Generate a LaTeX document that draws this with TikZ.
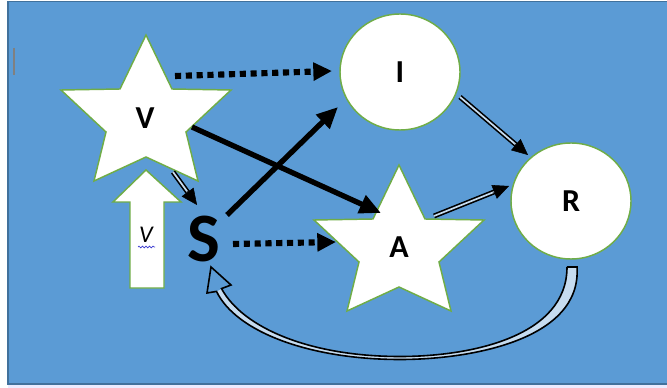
\documentclass[tikz,border=0pt]{standalone}
\usepackage{fontspec}
\setmainfont{Carlito}
\usetikzlibrary{arrows.meta,shapes.geometric,calc,decorations.pathmorphing}
\definecolor{bgblue}{HTML}{5B9BD5}
\definecolor{framec}{HTML}{41719C}
\definecolor{ggreen}{HTML}{70AD47}
\definecolor{spell}{HTML}{3B3BD0}
\colorlet{gapc}{white!65!bgblue}
\tikzset{
  starline/.style={draw=ggreen, fill=white, line width=1.1pt},
  pics/mystar/.style={code={
    \draw[starline] (0,-80) -- (26,-26) -- (85,-25) -- (40,17) -- (52,66) -- (0,42)
      -- (-52,66) -- (-40,17) -- (-85,-25) -- (-26,-26) -- cycle;}},
  lbl/.style={font=\bfseries\fontsize{24}{24}\selectfont, inner sep=0pt},
  circ/.style={ellipse, draw=ggreen, fill=white, line width=1.1pt,
    minimum width=90pt, minimum height=87pt, inner sep=0pt},
  dotarr/.style={line width=4.6pt, dash pattern=on 4.6pt off 3.5pt,
    -{Triangle[length=14pt,width=13pt]}},
  solarr/.style={line width=4pt, -{Triangle[length=16pt,width=14pt]}},
  dblshaft/.style={draw=black, line width=1.2pt, double=gapc, double distance=1.3pt},
  dbltip/.style={line width=0.4pt, -{Triangle[length=12pt,width=11pt]}},
}
\newcommand\dblarr[2]{%
  \draw[dblshaft] (#1) -- ($(#2)!9pt!(#1)$);
  \draw[dbltip] ($(#2)!13pt!(#1)$) -- (#2);}
\begin{document}
\begin{tikzpicture}[x=0.75pt,y=-0.75pt]
\useasboundingbox (0,0) rectangle (667,388);
\fill[white] (0,0) rectangle (667,388);
\fill[blue!8] (8,384) rectangle (667,388);
\draw[draw=framec, fill=bgblue, line width=1.2pt] (8,1.5) rectangle (672,384);
\draw[gray, line width=0.8pt] (14,48) -- (14,75);

% stars
\pic at (146,115) {mystar};
\pic at (399,245) {mystar};
\node[lbl] (V) at (145,118) {V};
\node[lbl] (A) at (399,247) {A};

% circles
\node[circ, lbl] (I) at (400,72) {I};
\node[circ, lbl] (R) at (571,201) {R};

% white up block arrow
\draw[draw=ggreen, fill=white, line width=1.1pt]
  (146,170) -- (181,202) -- (164,202) -- (164,288) -- (130,288) -- (130,202) -- (113,202) -- cycle;
\node[font=\itshape\fontsize{18}{18}\selectfont, inner sep=0pt] (v) at (146,235) {V};
\draw[spell, line width=0.5pt, decorate, decoration={snake, amplitude=0.7pt, segment length=2.6pt}]
  (138,247) -- (155,247);

% S
\node[font=\bfseries\fontsize{52}{52}\selectfont, inner sep=0pt] (S) at (204,239) {S};

% endpoints
\coordinate (vi1) at (175,76);  \coordinate (vi2) at (332,71);
\coordinate (sa1) at (233,244); \coordinate (sa2) at (336,242);
\coordinate (va1) at (192,127); \coordinate (va2) at (381,213);
\coordinate (si1) at (227,215); \coordinate (si2) at (338,107);
\coordinate (ir1) at (460,97);  \coordinate (ir2) at (528,155);
\coordinate (ar1) at (434,216); \coordinate (ar2) at (509,186);
\coordinate (vs1) at (173,172); \coordinate (vs2) at (197,205);

\draw[dotarr] (vi1) -- (vi2);
\draw[dotarr] (sa1) -- (sa2);
\draw[solarr] (va1) -- (va2);
\draw[solarr] (si1) -- (si2);
\dblarr{ir1}{ir2}
\dblarr{ar1}{ar2}
\dblarr{vs1}{vs2}

% curved return arrow R -> S
\fill[gapc] (577,267) .. controls (582,340) and (470,359.5) .. (400,359.5)
  .. controls (310,359.5) and (236,332) .. (216.5,291.4) -- (221.5,288.6)
  .. controls (243,328) and (310,356.5) .. (400,356.5)
  .. controls (470,356.5) and (567,337) .. (567,267) -- cycle;
\fill[bgblue] (216.5,291.4) -- (207,293) -- (211,267) -- (231,285) -- (221.5,288.6) -- cycle;
\draw[line width=1.2pt] (567,267) -- (577,267)
  .. controls (582,340) and (470,359.5) .. (400,359.5)
  .. controls (310,359.5) and (236,332) .. (216.5,291.4)
  -- (207,293) -- (211,267) -- (231,285) -- (221.5,288.6)
  .. controls (243,328) and (310,356.5) .. (400,356.5)
  .. controls (470,356.5) and (567,337) .. (567,267);
\end{tikzpicture}
\end{document}
